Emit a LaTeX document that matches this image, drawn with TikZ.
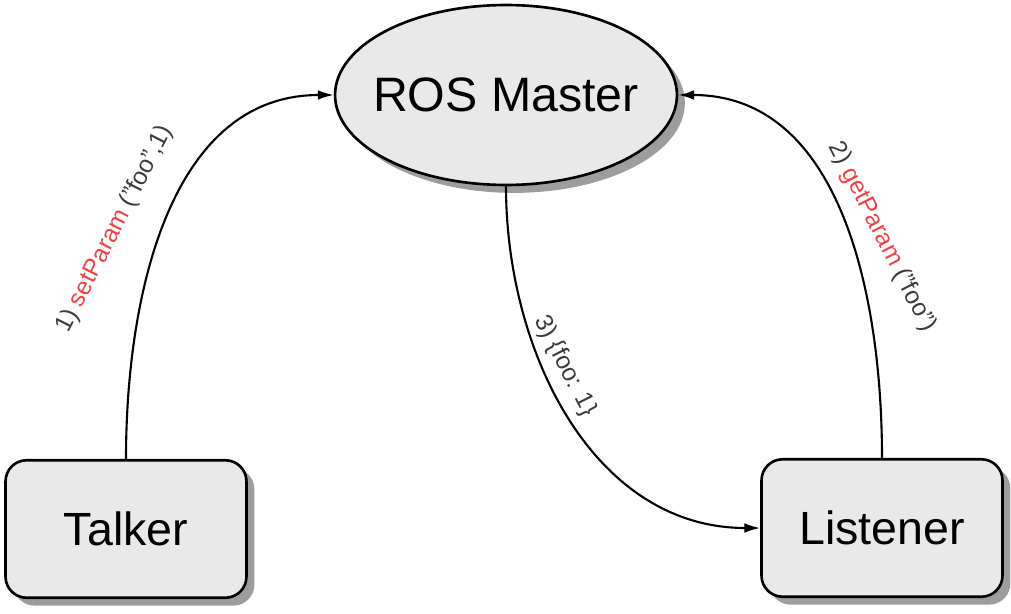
\documentclass[tikz,border=0pt]{standalone}
\usepackage{fontspec}
\setmainfont{Liberation Sans}
\usetikzlibrary{shapes.geometric, shadows, arrows.meta}
\definecolor{boxgray}{RGB}{233,233,233}
\definecolor{callred}{RGB}{235,68,68}
\definecolor{msggray}{RGB}{60,60,60}

\begin{document}
\begin{tikzpicture}[x=0.02cm, y=0.02cm, >={Latex[length=9pt,width=5.5pt]},
    shade/.style={drop shadow={shadow xshift=4.5pt, shadow yshift=-4.5pt, fill=black!55, opacity=.7}},
    proc/.style={draw, line width=1.5pt, rounded corners=12pt, fill=boxgray, shade,
        minimum width=4.82cm, minimum height=2.75cm, inner sep=0pt,
        font=\fontsize{26.5}{30}\selectfont},
    master/.style={ellipse, draw, line width=1.5pt, fill=boxgray, shade,
        minimum width=6.84cm, minimum height=3.6cm, inner sep=0pt,
        font=\fontsize{27.5}{30}\selectfont},
    msg/.style={inner sep=0pt, text=msggray, font=\fontsize{14}{16}\selectfont},
    link/.style={->, line width=1.2pt}]
    \useasboundingbox (0,0) rectangle (1011,613);

    \node[master] (ros) at (506,518) {\makebox[0pt]{ROS Master}};
    \node[proc] (talker) at (126,84) {Talker};
    \node[proc] (listener) at (882,85) {Listener};

    % calls to the master
    \draw[link] (talker.north) to[out=90, in=180] (ros.west);
    \draw[link] (listener.north) to[out=90, in=0] (ros.east);
    \draw[link] (ros.south) to[out=-90, in=180] (listener.west);

    \node[msg, rotate=63] (m1) at (115,384) {1) \textcolor{callred}{setParam} ("foo",1)};
    \node[msg, rotate=-63] (m2) at (882,376) {2) \textcolor{callred}{getParam} ("foo")};
    \node[msg, rotate=-63] (m3) at (565,247) {3) \{foo: 1\}};
\end{tikzpicture}
\end{document}
